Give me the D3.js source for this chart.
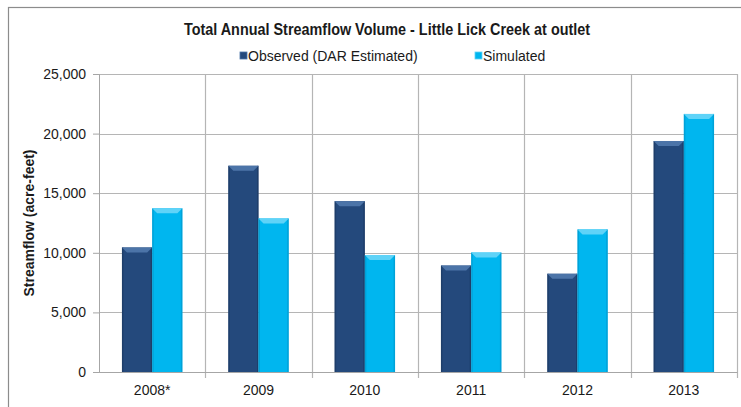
<!DOCTYPE html>
<html><head><meta charset="utf-8">
<script src="https://cdn.jsdelivr.net/npm/d3@7"></script>
<style>
html,body{margin:0;padding:0;background:#fff;}
svg text{font-family:"Liberation Sans",Arial,sans-serif;fill:#1a1a1a;}
</style></head>
<body>
<svg id="chart" width="741" height="407"></svg>
<script>
const categories = ["2008*", "2009", "2010", "2011", "2012", "2013"];
const seriesNames = ["Observed (DAR Estimated)", "Simulated"];
const observed = [10450, 17300, 14330, 8930, 8240, 19380];
const simulated = [13730, 12880, 9810, 10020, 11960, 21650];
const yTicks = [0, 5000, 10000, 15000, 20000, 25000];
const colors = ["#24497c", "#00b6ef"];
const lightColors = ["#4c74a8", "#5fd3f8"];
const darkColors = ["#1a375f", "#0095c8"];

const svg = d3.select("#chart");
const W = 741, H = 407;
const m = {left: 99, right: 4, top: 74, bottom: 35};
const x0 = d3.scaleBand().domain(categories).range([m.left, W - m.right]).paddingInner(0).paddingOuter(0);
const x1 = d3.scaleBand().domain(seriesNames).range([0, x0.bandwidth()]).paddingInner(0).paddingOuter(0.76);
const y = d3.scaleLinear().domain([0, 25000]).range([H - m.bottom, m.top]);

// outer chart border
svg.append("rect").attr("x", 8.5).attr("y", 7.5).attr("width", 760).attr("height", 420)
  .attr("fill", "none").attr("stroke", "#8c8c8c").attr("stroke-width", 1.2);

// gridlines horizontal
svg.append("g").selectAll("line").data(yTicks).join("line")
  .attr("x1", m.left).attr("x2", W - m.right)
  .attr("y1", d => Math.round(y(d)) + 0.5).attr("y2", d => Math.round(y(d)) + 0.5)
  .attr("stroke", "#b5b5b5").attr("stroke-width", 1.2);
// vertical gridlines (category boundaries)
const bounds = categories.map(c => x0(c) + x0.bandwidth());
svg.append("g").selectAll("line").data(bounds).join("line")
  .attr("x1", d => Math.round(d) + 0.5).attr("x2", d => Math.round(d) + 0.5)
  .attr("y1", m.top).attr("y2", H - m.bottom + 6)
  .attr("stroke", "#b5b5b5").attr("stroke-width", 1.2);

// y axis
const yAxis = svg.append("g").attr("transform", `translate(${m.left},0)`)
  .call(d3.axisLeft(y).tickValues(yTicks).tickSize(6).tickPadding(7).tickFormat(d3.format(",")));
yAxis.select(".domain").attr("stroke", "#a6a6a6");
yAxis.selectAll(".tick line").attr("stroke", "#a6a6a6");
yAxis.selectAll("text").attr("font-size", 14).attr("fill", "#1a1a1a");

// x axis
const xAxis = svg.append("g").attr("transform", `translate(0,${y(0)})`)
  .call(d3.axisBottom(x0).tickSize(0).tickPadding(13));
xAxis.select(".domain").attr("stroke", "#a6a6a6");
xAxis.selectAll("text").attr("font-size", 14).attr("fill", "#1a1a1a");

// bars
const data = categories.map((c, i) => ({c, vals: [observed[i], simulated[i]]}));
const bev = 5;
data.forEach(d => {
  d.vals.forEach((v, s) => {
    const bx = x0(d.c) + x1(seriesNames[s]);
    const bw = x1.bandwidth();
    const by = y(v), bh = y(0) - y(v);
    const g = svg.append("g");
    g.append("rect").attr("x", bx).attr("y", by).attr("width", bw).attr("height", bh).attr("fill", colors[s]);
    g.append("rect").attr("x", bx).attr("y", by).attr("width", 1.5).attr("height", bh).attr("fill", darkColors[s]).attr("opacity", 0.6);
    g.append("rect").attr("x", bx + bw - 1.5).attr("y", by).attr("width", 1.5).attr("height", bh).attr("fill", darkColors[s]).attr("opacity", 0.6);
    g.append("polygon")
      .attr("points", [[bx, by], [bx + bw, by], [bx + bw - bev, by + bev], [bx + bev, by + bev]].map(p => p.join(",")).join(" "))
      .attr("fill", lightColors[s]);
  });
});

// title
svg.append("text").attr("transform", "translate(387,35) scale(0.9,1)").attr("text-anchor", "middle")
  .attr("font-size", 16).attr("font-weight", "bold").text("Total Annual Streamflow Volume - Little Lick Creek at outlet");

// legend
const legX = [240, 475];
seriesNames.forEach((n, i) => {
  svg.append("rect").attr("x", legX[i]).attr("y", 52).attr("width", 7).attr("height", 7)
    .attr("fill", colors[i]).attr("stroke", lightColors[i]).attr("stroke-width", 0.8);
  svg.append("text").attr("x", legX[i] + 8).attr("y", 61).attr("font-size", 14).text(n);
});

// y axis title
svg.append("text").attr("transform", `translate(34,${(m.top + y(0)) / 2}) rotate(-90)`)
  .attr("text-anchor", "middle").attr("font-size", 14).attr("font-weight", "bold")
  .text("Streamflow (acre-feet)");
</script>
</body></html>
